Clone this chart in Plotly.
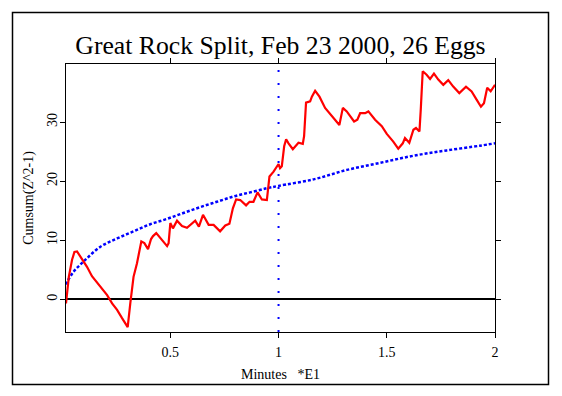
import plotly.graph_objects as go

# ---- data ----
red_x = [0.018, 0.031, 0.046, 0.057, 0.069, 0.092, 0.115, 0.138, 0.177, 0.208,
         0.231, 0.254, 0.277, 0.297, 0.303, 0.315, 0.330, 0.346, 0.358, 0.366,
         0.380, 0.397, 0.411, 0.420, 0.435, 0.454, 0.485, 0.492, 0.500, 0.512,
         0.531, 0.554, 0.577, 0.615, 0.632, 0.651, 0.677, 0.700, 0.730, 0.754,
         0.773, 0.789, 0.804, 0.823, 0.850, 0.866, 0.884, 0.903, 0.923, 0.946,
         0.958, 0.977, 1.000, 1.007, 1.015, 1.026, 1.035, 1.046, 1.066, 1.092,
         1.112, 1.118, 1.127, 1.146, 1.154, 1.169, 1.189, 1.215, 1.238, 1.261,
         1.281, 1.297, 1.315, 1.349, 1.364, 1.377, 1.400, 1.415, 1.446, 1.477,
         1.500, 1.530, 1.553, 1.574, 1.584, 1.604, 1.623, 1.635, 1.651, 1.657,
         1.666, 1.684, 1.700, 1.718, 1.738, 1.761, 1.784, 1.807, 1.835, 1.866,
         1.892, 1.915, 1.935, 1.949, 1.964, 1.980, 2.000]
red_y = [-0.7, 3.8, 6.7, 8.0, 8.1, 6.9, 5.5, 3.9, 2.1, 0.7,
         -0.7, -1.8, -3.2, -4.4, -4.7, -0.7, 3.8, 6.1, 8.4, 9.8,
         9.5, 8.5, 10.2, 10.7, 11.2, 10.3, 9.0, 9.5, 12.9, 12.0,
         13.3, 12.4, 12.1, 13.3, 12.3, 14.3, 12.6, 12.6, 11.5, 12.5,
         12.8, 15.4, 16.9, 16.8, 15.9, 16.5, 16.5, 18.1, 16.9, 16.8,
         20.8, 21.6, 22.9, 22.2, 22.5, 25.9, 27.1, 26.4, 25.4, 26.5,
         26.3, 27.6, 33.3, 33.5, 34.3, 35.3, 34.3, 32.4, 31.4, 30.5,
         29.5, 32.4, 31.8, 30.1, 30.4, 31.5, 31.5, 31.8, 30.4, 29.3,
         28.0, 26.7, 25.5, 26.4, 27.3, 26.5, 28.7, 29.0, 28.4, 32.1,
         38.6, 38.0, 37.3, 38.2, 37.2, 36.3, 37.1, 36.0, 34.9, 36.0,
         35.2, 33.8, 32.6, 33.2, 35.8, 35.2, 36.3]

blue_x = [0.018, 0.024, 0.054, 0.108, 0.177, 0.254, 0.330, 0.407, 0.484, 0.560,
          0.638, 0.715, 0.792, 0.869, 0.946, 1.000, 1.162, 1.316, 1.470, 1.623,
          1.777, 1.931, 2.000]
blue_y = [2.5, 3.0, 4.7, 6.7, 8.9, 10.3, 11.5, 12.7, 13.6, 14.6,
          15.6, 16.5, 17.4, 18.1, 18.8, 19.2, 20.3, 21.9, 23.1, 24.3,
          25.2, 26.0, 26.4]

event_x = 1.0
x_ticks = [0.5, 1, 1.5, 2]
x_tick_labels = ["0.5", "1", "1.5", "2"]
y_ticks = [0, 10, 20, 30]
y_tick_labels = ["0", "10", "20", "30"]

title_text = "Great Rock Split, Feb 23 2000, 26 Eggs"
x_title = "Minutes\u00a0\u00a0\u00a0*E1"
y_title = "Cumsum(Z^2-1)"

FONT = "Liberation Serif, Times New Roman, serif"

# the page body has an 8px default margin, so the figure is 8px smaller
W, H = 554, 388
ML, MR, MT, MB = 58, 67, 56, 64
PW, PH = W - ML - MR, H - MT - MB


def px_x(p):  # page pixel -> paper x
    return (p - 8 - ML) / PW


def px_y(p):  # page pixel -> paper y
    return (H - MB - (p - 8)) / PH


fig = go.Figure()
fig.add_trace(go.Scatter(x=blue_x, y=blue_y, mode="lines", line_shape="spline",
                         line=dict(color="#0000ff", width=2.5, dash="3px,2px"),
                         hoverinfo="skip", showlegend=False))
fig.add_trace(go.Scatter(x=red_x, y=red_y, mode="lines",
                         line=dict(color="#ff0000", width=2.2),
                         hoverinfo="skip", showlegend=False))

# vertical event line
fig.add_shape(type="line", xref="x", yref="paper", x0=event_x, x1=event_x, y0=0, y1=1,
              line=dict(color="#0000ff", width=2, dash="2px,11px"))
# outer frame
fig.add_shape(type="rect", xref="paper", yref="paper",
              x0=px_x(12.5), x1=px_x(548.5), y0=px_y(384.5), y1=px_y(12.5),
              line=dict(color="black", width=1.5), fillcolor="rgba(0,0,0,0)")

fig.update_layout(
    width=W, height=H,
    margin=dict(l=ML, r=MR, t=MT, b=MB, pad=0),
    paper_bgcolor="white", plot_bgcolor="white",
    font=dict(family=FONT, color="black", size=14),
    title=dict(text=title_text, x=0.5, xref="paper", xanchor="center",
               y=1 - (45 - 8) / H, yanchor="middle",
               font=dict(family=FONT, size=25.7, color="black")),
    showlegend=False,
)
fig.update_xaxes(range=[0.018, 2.0], tickvals=x_ticks, ticktext=x_tick_labels,
                 showgrid=False, zeroline=False, showline=True, linecolor="black",
                 linewidth=1, mirror="allticks", ticks="outside", ticklen=5,
                 tickcolor="black", tickfont=dict(size=14), ticklabelstandoff=2,
                 title=dict(text=x_title, font=dict(size=14), standoff=10))
fig.update_yaxes(range=[-5.54, 39.83], tickvals=y_ticks, ticktext=y_tick_labels,
                 showgrid=False, zeroline=True, zerolinecolor="black", zerolinewidth=2,
                 showline=True, linecolor="black", linewidth=1, mirror="allticks",
                 ticks="outside", ticklen=5, tickcolor="black", tickangle=-90,
                 tickfont=dict(size=14), ticklabelstandoff=-3,
                 title=dict(text=y_title, font=dict(size=14), standoff=8))

fig.write_html("out.html")
